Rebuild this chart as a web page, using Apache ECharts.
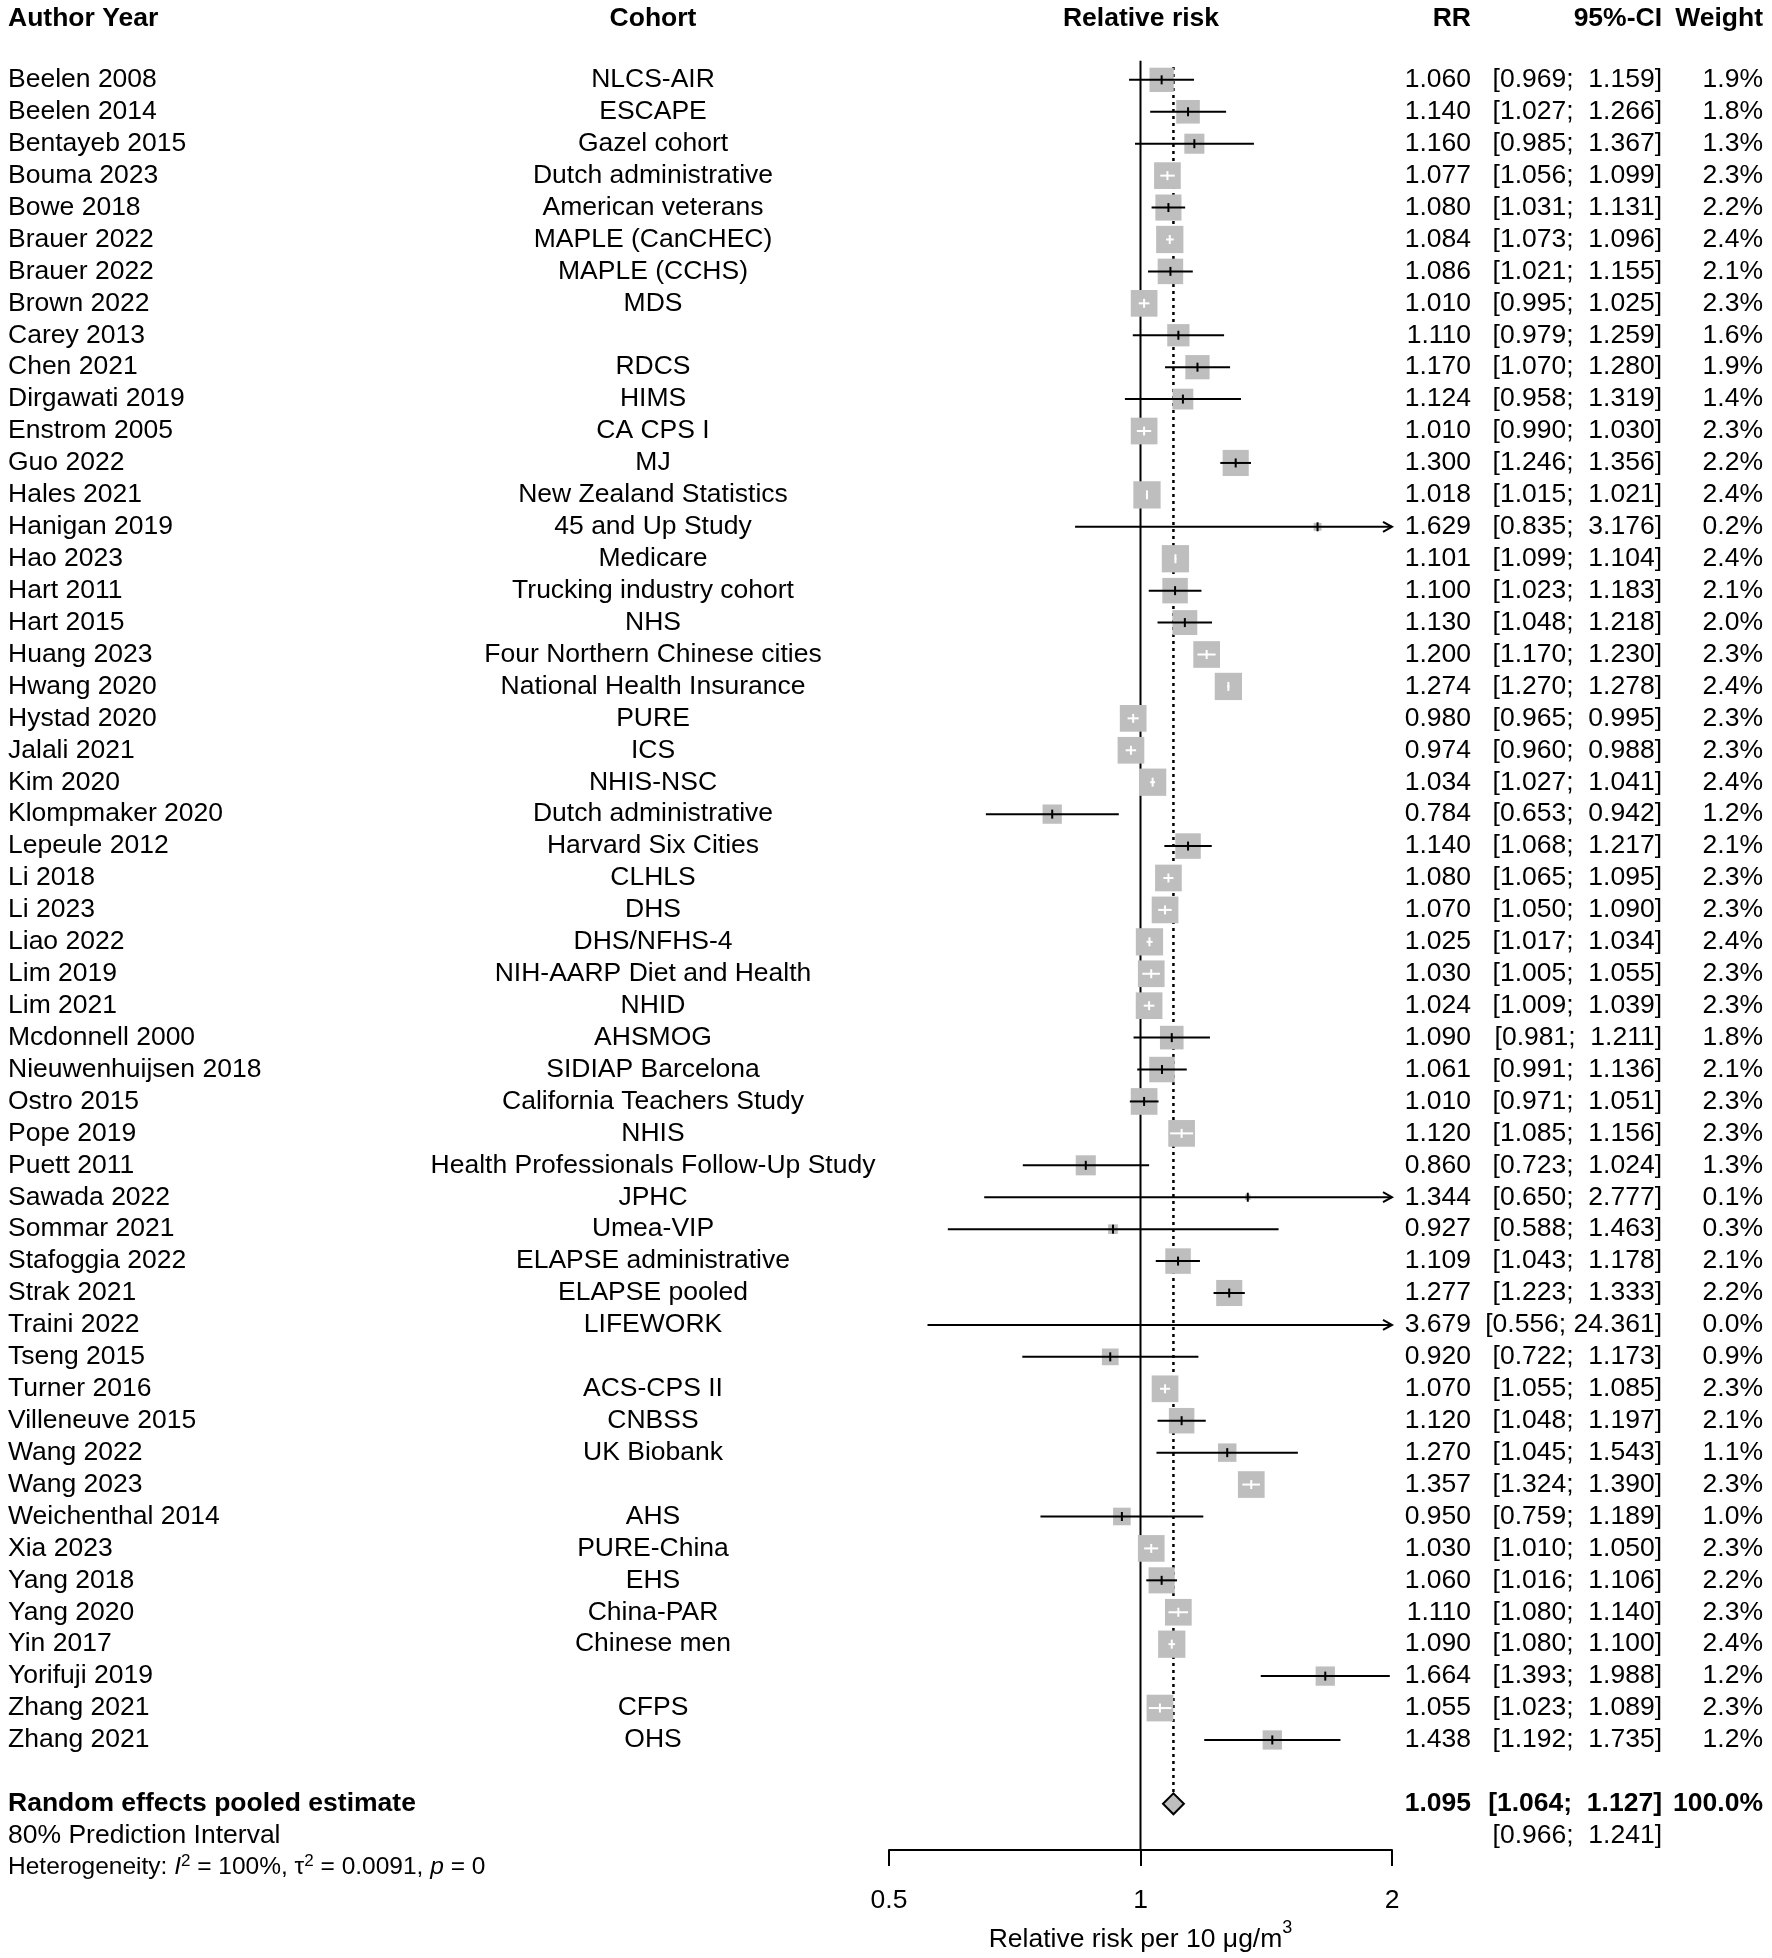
<!DOCTYPE html>
<html><head><meta charset="utf-8">
<script src="https://cdn.jsdelivr.net/npm/echarts@6/dist/echarts.min.js"></script>
<style>html,body{margin:0;padding:0;background:#fff}#c{width:1772px;height:1958px}</style>
</head><body><div id="c"></div>
<script>
const authors = ["Beelen 2008","Beelen 2014","Bentayeb 2015","Bouma 2023","Bowe 2018","Brauer 2022","Brauer 2022","Brown 2022","Carey 2013","Chen 2021","Dirgawati 2019","Enstrom 2005","Guo 2022","Hales 2021","Hanigan 2019","Hao 2023","Hart 2011","Hart 2015","Huang 2023","Hwang 2020","Hystad 2020","Jalali 2021","Kim 2020","Klompmaker 2020","Lepeule 2012","Li 2018","Li 2023","Liao 2022","Lim 2019","Lim 2021","Mcdonnell 2000","Nieuwenhuijsen 2018","Ostro 2015","Pope 2019","Puett 2011","Sawada 2022","Sommar 2021","Stafoggia 2022","Strak 2021","Traini 2022","Tseng 2015","Turner 2016","Villeneuve 2015","Wang 2022","Wang 2023","Weichenthal 2014","Xia 2023","Yang 2018","Yang 2020","Yin 2017","Yorifuji 2019","Zhang 2021","Zhang 2021"];
const cohorts = ["NLCS-AIR","ESCAPE","Gazel cohort","Dutch administrative","American veterans","MAPLE (CanCHEC)","MAPLE (CCHS)","MDS","","RDCS","HIMS","CA CPS I","MJ","New Zealand Statistics","45 and Up Study","Medicare","Trucking industry cohort","NHS","Four Northern Chinese cities","National Health Insurance","PURE","ICS","NHIS-NSC","Dutch administrative","Harvard Six Cities","CLHLS","DHS","DHS/NFHS-4","NIH-AARP Diet and Health","NHID","AHSMOG","SIDIAP Barcelona","California Teachers Study","NHIS","Health Professionals Follow-Up Study","JPHC","Umea-VIP","ELAPSE administrative","ELAPSE pooled","LIFEWORK","","ACS-CPS II","CNBSS","UK Biobank","","AHS","PURE-China","EHS","China-PAR","Chinese men","","CFPS","OHS"];
const rr = [1.060,1.140,1.160,1.077,1.080,1.084,1.086,1.010,1.110,1.170,1.124,1.010,1.300,1.018,1.629,1.101,1.100,1.130,1.200,1.274,0.980,0.974,1.034,0.784,1.140,1.080,1.070,1.025,1.030,1.024,1.090,1.061,1.010,1.120,0.860,1.344,0.927,1.109,1.277,3.679,0.920,1.070,1.120,1.270,1.357,0.950,1.030,1.060,1.110,1.090,1.664,1.055,1.438];
const ciLower = [0.969,1.027,0.985,1.056,1.031,1.073,1.021,0.995,0.979,1.070,0.958,0.990,1.246,1.015,0.835,1.099,1.023,1.048,1.170,1.270,0.965,0.960,1.027,0.653,1.068,1.065,1.050,1.017,1.005,1.009,0.981,0.991,0.971,1.085,0.723,0.650,0.588,1.043,1.223,0.556,0.722,1.055,1.048,1.045,1.324,0.759,1.010,1.016,1.080,1.080,1.393,1.023,1.192];
const ciUpper = [1.159,1.266,1.367,1.099,1.131,1.096,1.155,1.025,1.259,1.280,1.319,1.030,1.356,1.021,3.176,1.104,1.183,1.218,1.230,1.278,0.995,0.988,1.041,0.942,1.217,1.095,1.090,1.034,1.055,1.039,1.211,1.136,1.051,1.156,1.024,2.777,1.463,1.178,1.333,24.361,1.173,1.085,1.197,1.543,1.390,1.189,1.050,1.106,1.140,1.100,1.988,1.089,1.735];
const weights = [1.9,1.8,1.3,2.3,2.2,2.4,2.1,2.3,1.6,1.9,1.4,2.3,2.2,2.4,0.2,2.4,2.1,2.0,2.3,2.4,2.3,2.3,2.4,1.2,2.1,2.3,2.3,2.4,2.3,2.3,1.8,2.1,2.3,2.3,1.3,0.1,0.3,2.1,2.2,0.0,0.9,2.3,2.1,1.1,2.3,1.0,2.3,2.2,2.3,2.4,1.2,2.3,1.2];
const pooled = {rr: 1.095, lower: 1.064, upper: 1.127, weight: 100.0};
const predInterval = [0.966, 1.241];
const xTicks = [0.5, 1, 2];
const headers = ["Author Year","Cohort","Relative risk","RR","95%-CI","Weight"];

const FONT = '"Liberation Sans", Arial, Helvetica, sans-serif';
const FS = 26.5;
const XMIN = 0.5, XMAX = 2;
const nStudy = authors.length;
const ROW_POOLED = nStudy + 1, ROW_PRED = nStudy + 2, ROW_HET = nStudy + 3, ROW_HEAD = -1.93;
const COL = {author: 8, cohort: 653, rr: 1471, ci: 1662, weight: 1763, plotMid: 1141};

const f3 = v => v.toFixed(3);
const ciText = (lo, hi) => '[' + f3(lo) + ';' + (hi < 10 ? '  ' : ' ') + f3(hi) + ']';

function txt(x, y, text, align, bold, size) {
  return {type: 'text', style: {text: text, x: x, y: y, align: align, verticalAlign: 'middle',
    fill: '#000', fontSize: size || FS, fontFamily: FONT, fontWeight: bold ? 'bold' : 'normal'}};
}

const chart = echarts.init(document.getElementById('c'), null, {renderer: 'canvas'});

const studyData = rr.map((v, i) => [v, i, ciLower[i], ciUpper[i], weights[i]]);

function renderStudy(params, api) {
  const est = api.value(0), row = api.value(1), lo = api.value(2), hi = api.value(3), w = api.value(4);
  const clamp = v => Math.min(Math.max(v, XMIN), XMAX);
  const y = api.coord([1, row])[1];
  const px = v => api.coord([clamp(v), row])[0];
  const children = [];
  const s = 17.6 * Math.sqrt(w);
  const inRange = est >= XMIN && est <= XMAX;
  const xe = px(est), xl = px(lo), xh = px(hi);
  let inside = false;
  if (inRange && s > 0) {
    children.push({type: 'rect', shape: {x: xe - s / 2, y: y - s / 2, width: s, height: s},
      style: {fill: '#bebebe'}});
    inside = (xl >= xe - s / 2) && (xh <= xe + s / 2);
  }
  const col = inside ? '#fff' : '#000';
  children.push({type: 'line', shape: {x1: xl, y1: y, x2: xh, y2: y}, style: {stroke: col, lineWidth: 2}});
  if (inRange) {
    children.push({type: 'line', shape: {x1: xe, y1: y - 4.5, x2: xe, y2: y + 4.5}, style: {stroke: col, lineWidth: 2}});
  }
  if (hi > XMAX) {
    children.push({type: 'polyline', shape: {points: [[xh - 9, y - 5], [xh, y], [xh - 9, y + 5]]},
      style: {stroke: '#000', lineWidth: 2, fill: null}});
  }
  if (lo < XMIN) {
    children.push({type: 'polyline', shape: {points: [[xl + 9, y - 5], [xl, y], [xl + 9, y + 5]]},
      style: {stroke: '#000', lineWidth: 2, fill: null}});
  }
  return {type: 'group', children: children};
}

function renderStudyText(params, api) {
  const i = params.dataIndex;
  const y = api.coord([1, api.value(1)])[1];
  return {type: 'group', children: [
    txt(COL.author, y, authors[i], 'left'),
    txt(COL.cohort, y, cohorts[i], 'center'),
    txt(COL.rr, y, f3(rr[i]), 'right'),
    txt(COL.ci, y, ciText(ciLower[i], ciUpper[i]), 'right'),
    txt(COL.weight, y, weights[i].toFixed(1) + '%', 'right')
  ]};
}

function renderOther(params, api) {
  const yH = api.coord([1, ROW_HEAD])[1];
  const yP = api.coord([1, ROW_POOLED])[1];
  const yR = api.coord([1, ROW_PRED])[1];
  const yT = api.coord([1, ROW_HET])[1];
  const children = [
    txt(COL.author, yH, headers[0], 'left', true),
    txt(COL.cohort, yH, headers[1], 'center', true),
    txt(COL.plotMid, yH, headers[2], 'center', true),
    txt(COL.rr, yH, headers[3], 'right', true),
    txt(COL.ci, yH, headers[4], 'right', true),
    txt(COL.weight, yH, headers[5], 'right', true),
    txt(COL.author, yP, 'Random effects pooled estimate', 'left', true),
    txt(COL.rr, yP, f3(pooled.rr), 'right', true),
    txt(COL.ci, yP, ciText(pooled.lower, pooled.upper), 'right', true),
    txt(COL.weight, yP, pooled.weight.toFixed(1) + '%', 'right', true),
    txt(COL.author, yR, '80% Prediction Interval', 'left'),
    txt(COL.ci, yR, ciText(predInterval[0], predInterval[1]), 'right'),
    {type: 'text', style: {
      text: '{n|Heterogeneity: }{i|I}{s|2}{n| = 100%, τ}{s|2}{n| = 0.0091, }{i|p}{n| = 0}',
      x: COL.author, y: yT, align: 'left', verticalAlign: 'middle',
      rich: {
        n: {fontSize: 24.5, fontFamily: FONT, fill: '#000', lineHeight: 30},
        i: {fontSize: 24.5, fontFamily: FONT, fontStyle: 'italic', fill: '#000', lineHeight: 30},
        s: {fontSize: 17, fontFamily: FONT, fill: '#000', verticalAlign: 'top', lineHeight: 30}
      }}}
  ];
  return {type: 'group', children: children};
}

function renderRefLines(params, api) {
  const x1 = api.coord([1, 0])[0];
  const xp = api.coord([pooled.rr, 0])[0];
  const yTop = api.coord([1, -0.6])[1];
  const yTopD = api.coord([1, -0.4])[1];
  const yPool = api.coord([1, ROW_POOLED])[1];
  const xl = api.coord([pooled.lower, 0])[0], xh = api.coord([pooled.upper, 0])[0];
  const dh = 10.5;
  return {type: 'group', children: [
    {type: 'line', shape: {x1: x1, y1: yTop, x2: x1, y2: api.coord([1, 55.45])[1]}, style: {stroke: '#000', lineWidth: 2}},
    {type: 'line', shape: {x1: xp, y1: yTopD, x2: xp, y2: yPool - dh}, style: {stroke: '#000', lineWidth: 2.5, lineDash: [3, 4]}},
    {type: 'polygon', shape: {points: [[xl, yPool], [xp, yPool - dh], [xh, yPool], [xp, yPool + dh]]},
      style: {fill: '#bebebe', stroke: '#000', lineWidth: 2}}
  ]};
}

chart.setOption({
  animation: false,
  backgroundColor: '#fff',
  grid: {left: 889, width: 503, top: 16, height: 1841, containLabel: false},
  xAxis: {
    type: 'log', logBase: 2, min: XMIN, max: XMAX, position: 'bottom',
    axisLine: {show: true, onZero: false, lineStyle: {color: '#000', width: 2}},
    axisTick: {show: true, length: 16, inside: false, lineStyle: {color: '#000', width: 2}},
    axisLabel: {fontSize: FS, color: '#000', fontFamily: FONT, margin: 37,
      formatter: v => { const t = xTicks.find(k => Math.abs(k - v) < 1e-6); return t !== undefined ? String(t) : ''; }},
    splitLine: {show: false},
    minorTick: {show: false},
    name: '{n|Relative risk per 10 μg/m}{s|3}',
    nameLocation: 'middle', nameGap: 64,
    nameTextStyle: {fontSize: FS, color: '#000', fontFamily: FONT,
      rich: {
        n: {fontSize: FS, fontFamily: FONT, color: '#000', lineHeight: 34, verticalAlign: 'bottom'},
        s: {fontSize: 18, fontFamily: FONT, color: '#000', lineHeight: 34, verticalAlign: 'top'}
      }}
  },
  yAxis: {type: 'value', inverse: true, min: -2, max: 55.45, show: false},
  series: [
    {type: 'custom', name: 'refs', clip: false, renderItem: renderRefLines, data: [[1, 0]], encode: {x: 0, y: 1}, silent: true},
    {type: 'custom', name: 'studies', clip: false, renderItem: renderStudy, data: studyData, encode: {x: 0, y: 1}, silent: true},
    {type: 'custom', name: 'studyText', clip: false, renderItem: renderStudyText, data: rr.map((v, i) => [1, i]), encode: {x: 0, y: 1}, silent: true},
    {type: 'custom', name: 'otherText', clip: false, renderItem: renderOther, data: [[1, 0]], encode: {x: 0, y: 1}, silent: true}
  ]
});
</script>
</body></html>
